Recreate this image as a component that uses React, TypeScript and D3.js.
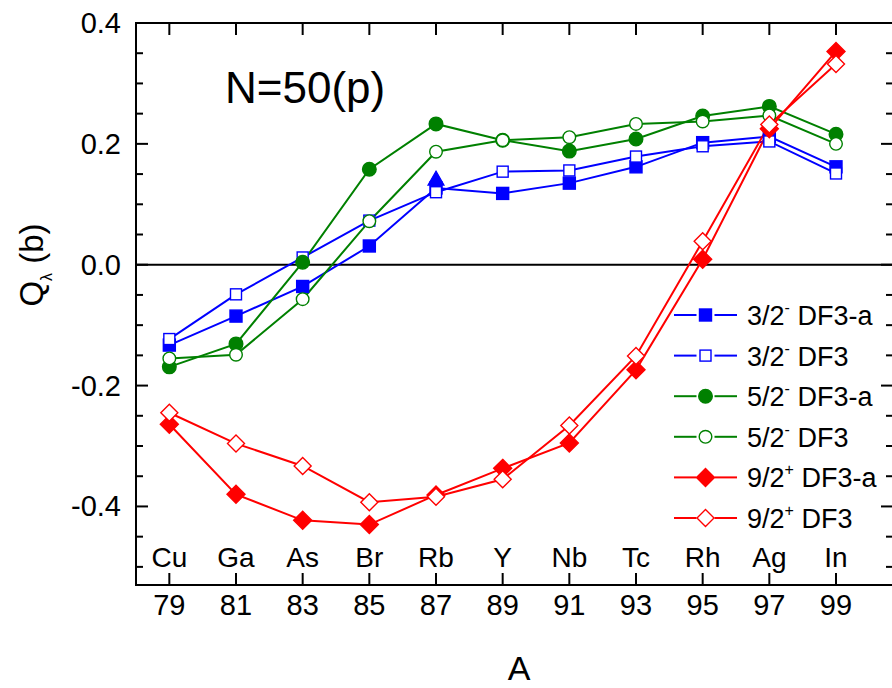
import React from "react";
import * as d3 from "d3";

const massNumbers = [79, 81, 83, 85, 87, 89, 91, 93, 95, 97, 99];
const elements = ["Cu", "Ga", "As", "Br", "Rb", "Y", "Nb", "Tc", "Rh", "Ag", "In"];

const q32DF3a = [-0.133, -0.085, -0.036, 0.031, 0.127, 0.118, 0.135, 0.162, 0.202, 0.212, 0.162];
const q32DF3 = [-0.123, -0.049, 0.012, 0.073, 0.120, 0.154, 0.156, 0.179, 0.196, 0.204, 0.151];
const q52DF3a = [-0.169, -0.131, 0.004, 0.158, 0.233, 0.206, 0.188, 0.208, 0.246, 0.262, 0.216];
const q52DF3 = [-0.155, -0.149, -0.057, 0.072, 0.187, 0.206, 0.211, 0.233, 0.237, 0.247, 0.200];
const q92DF3a = [-0.264, -0.380, -0.423, -0.430, -0.381, -0.337, -0.295, -0.174, 0.009, 0.225, 0.353];
const q92DF3 = [-0.245, -0.296, -0.333, -0.393, -0.384, -0.355, -0.266, -0.151, 0.039, 0.232, 0.332];

const triangleA = [87];
const triangleQ = [0.140];

const yMajorTicks = [-0.4, -0.2, 0.0, 0.2, 0.4];
const yTickLabels = ["-0.4", "-0.2", "0.0", "0.2", "0.4"];

type Shape = "square" | "circle" | "diamond";
const series: { spin: string; parity: string; model: string; values: number[]; color: string; shape: Shape; filled: boolean }[] = [
  { spin: "3/2", parity: "-", model: "DF3-a", values: q32DF3a, color: "#0000FF", shape: "square", filled: true },
  { spin: "3/2", parity: "-", model: "DF3", values: q32DF3, color: "#0000FF", shape: "square", filled: false },
  { spin: "5/2", parity: "-", model: "DF3-a", values: q52DF3a, color: "#008000", shape: "circle", filled: true },
  { spin: "5/2", parity: "-", model: "DF3", values: q52DF3, color: "#008000", shape: "circle", filled: false },
  { spin: "9/2", parity: "+", model: "DF3-a", values: q92DF3a, color: "#FF0000", shape: "diamond", filled: true },
  { spin: "9/2", parity: "+", model: "DF3", values: q92DF3, color: "#FF0000", shape: "diamond", filled: false },
];

const FONT = "'Liberation Sans', Arial, sans-serif";

function Marker({ x, y, shape, color, filled }: { x: number; y: number; shape: Shape; color: string; filled: boolean }) {
  const fill = filled ? color : "#fff";
  const sw = 1.4;
  if (shape === "square") {
    const s = filled ? 12 : 11;
    return <rect x={x - s / 2} y={y - s / 2} width={s} height={s} fill={fill} stroke={color} strokeWidth={sw} />;
  }
  if (shape === "circle") {
    return <circle cx={x} cy={y} r={filled ? 6.8 : 6.3} fill={fill} stroke={color} strokeWidth={sw} />;
  }
  const r = filled ? 9 : 8.5;
  return (
    <path d={`M${x},${y - r}L${x + r},${y}L${x},${y + r}L${x - r},${y}Z`} fill={fill} stroke={color} strokeWidth={sw} />
  );
}

export default function App() {
  const W = 892;
  const H = 688;
  const left = 136;
  const right = 893;
  const top = 23;
  const bottom = 585;

  const x = d3.scaleLinear().domain([78, 100.71]).range([left, right]);
  const y = d3.scaleLinear().domain([-0.53, 0.4]).range([bottom, top]);

  const line = d3
    .line<number>()
    .x((_, i) => x(massNumbers[i]))
    .y((d) => y(d));

  const minorTicks = d3.range(-0.5, 0.4001, 0.05).map((v) => Math.round(v * 100) / 100);

  const legendX0 = 674;
  const legendX1 = 737;
  const legendY0 = 315;
  const legendDy = 40.6;

  return (
    <svg width={W} height={H} style={{ position: "absolute", left: 0, top: 0, background: "#fff" }} fontFamily={FONT}>
      <rect x={0} y={0} width={W} height={H} fill="#fff" />

      {/* zero line */}
      <line x1={left} x2={right} y1={y(0)} y2={y(0)} stroke="#000" strokeWidth={2} />

      {/* series lines */}
      {series.map((s, k) => (
        <path key={"l" + k} d={line(s.values) || ""} fill="none" stroke={s.color} strokeWidth={2} />
      ))}

      {/* markers */}
      {series.map((s, k) => (
        <g key={"m" + k}>
          {s.values.map((v, i) => (
            <Marker key={i} x={x(massNumbers[i])} y={y(v)} shape={s.shape} color={s.color} filled={s.filled} />
          ))}
          {k === 0 &&
            triangleA.map((a, i) => {
              const cx = x(a);
              const cy = y(triangleQ[i]);
              return (
                <path
                  key={"t" + i}
                  d={`M${cx},${cy - 9}L${cx + 8},${cy + 5}L${cx - 8},${cy + 5}Z`}
                  fill="#0000FF"
                  stroke="#0000FF"
                  strokeWidth={1.2}
                />
              );
            })}
        </g>
      ))}

      {/* frame */}
      <rect x={left} y={top} width={right - left} height={bottom - top} fill="none" stroke="#000" strokeWidth={2} />

      {/* y ticks */}
      {minorTicks.map((v, i) => {
        const isMajor = yMajorTicks.some((m) => Math.abs(m - v) < 1e-6);
        const len = isMajor ? 12 : 7;
        return (
          <g key={"yt" + i}>
            <line x1={left} x2={left + len} y1={y(v)} y2={y(v)} stroke="#000" strokeWidth={2} />
            <line x1={right - len} x2={right} y1={y(v)} y2={y(v)} stroke="#000" strokeWidth={2} />
          </g>
        );
      })}
      {yMajorTicks.map((v, i) => (
        <text key={"yl" + i} x={121} y={y(v) + 10} textAnchor="end" fontSize={29} fill="#000">
          {yTickLabels[i]}
        </text>
      ))}

      {/* x ticks */}
      {massNumbers.map((a, i) => (
        <g key={"xt" + i}>
          <line x1={x(a)} x2={x(a)} y1={bottom} y2={bottom - 12} stroke="#000" strokeWidth={2} />
          <line x1={x(a)} x2={x(a)} y1={top} y2={top + 12} stroke="#000" strokeWidth={2} />
          <text x={x(a)} y={615} textAnchor="middle" fontSize={29} fill="#000">
            {a}
          </text>
          <text x={x(a)} y={567} textAnchor="middle" fontSize={28} fill="#000">
            {elements[i]}
          </text>
        </g>
      ))}

      {/* axis titles */}
      <text x={519} y={680} textAnchor="middle" fontSize={34} fill="#000">
        A
      </text>
      <text transform={`translate(43,265) rotate(-90)`} textAnchor="middle" fontSize={33} fill="#000">
        Q
        <tspan fontSize={16} dy={9}>
          λ
        </tspan>
        <tspan dy={-9}> (b)</tspan>
      </text>

      {/* panel title */}
      <text x={225} y={103} fontSize={44} fill="#000">
        N=50(p)
      </text>

      {/* legend */}
      {series.map((s, k) => {
        const cy = legendY0 + k * legendDy;
        const cx = (legendX0 + legendX1) / 2;
        return (
          <g key={"lg" + k}>
            <line x1={legendX0} x2={cx - 9} y1={cy} y2={cy} stroke={s.color} strokeWidth={2} />
            <line x1={cx + 9} x2={legendX1} y1={cy} y2={cy} stroke={s.color} strokeWidth={2} />
            <Marker x={cx} y={cy} shape={s.shape} color={s.color} filled={s.filled} />
            <text x={747} y={cy + 10} fontSize={27} fill="#000">
              {s.spin}
              <tspan fontSize={16} dy={-12}>
                {s.parity}
              </tspan>
              <tspan dy={12}> {s.model}</tspan>
            </text>
          </g>
        );
      })}
    </svg>
  );
}
